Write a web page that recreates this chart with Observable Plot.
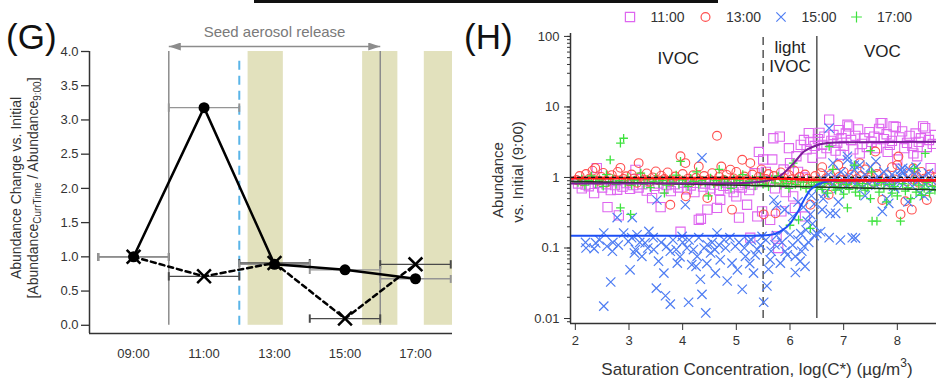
<!DOCTYPE html>
<html><head><meta charset="utf-8">
<script src="https://cdn.jsdelivr.net/npm/d3@7"></script>
<script src="https://cdn.jsdelivr.net/npm/@observablehq/plot@0.6"></script>
<style>
body{margin:0;background:#fff;font-family:"Liberation Sans",Arial,sans-serif;}
#wrap{position:relative;width:936px;height:381px;overflow:hidden;background:#fff;}
#g{position:absolute;left:0;top:0;}
#h{position:absolute;left:460px;top:0;}
#bar{position:absolute;left:254px;top:0;width:464px;height:3px;background:#111;}
</style></head>
<body><div id="wrap"><div id="bar"></div><div id="g"></div><div id="h"></div></div>
<script>
// ---------- Panel G data ----------
const hours = [9, 11, 13, 15, 17];
const hourLabels = ["09:00", "11:00", "13:00", "15:00", "17:00"];
const abundCircle = [1.0, 3.18, 0.89, 0.81, 0.68];
const abundCross = [1.0, 0.715, 0.91, 0.098, 0.89];
const errHalfWidth = [1, 1, 1, 1, 1];
const gYTicks = [0, 0.5, 1, 1.5, 2, 2.5, 3, 3.5, 4];
const releaseStart = 10, releaseEnd = 16;
const seedMarker = 12;
const bandStarts = [12.25, 15.5, 17.25];
const bandEnds = [13.25, 16.5, 18.05];
const gXDomain = [7.75, 18.05];
const gYDomain = [-0.12, 4];

// ---------- Panel H data ----------
const legendLabels = ["11:00", "13:00", "15:00", "17:00"];
const hXTicks = [2, 3, 4, 5, 6, 7, 8];
const hYTicks = [0.01, 0.1, 1, 10, 100];
const hYTickLabels = ["0.01", "0.1", "1", "10", "100"];
const hXDomain = [1.91, 8.73];
const hYDomain = [0.0085, 110];
const ivocBoundary = 5.5, vocBoundary = 6.5;
const unityRatio = 1;
const regionNames = ["IVOC", "light\nIVOC", "VOC"];
const regionX = [3.92, 6.0, 7.72];
const regionY = [49, 52, 62];

const pts1100 = [
[2.05,0.82],[2.12,0.7],[2.19,0.79],[2.25,0.75],[2.35,0.6],[2.4,1.36],[2.42,0.84],[2.5,0.72],[2.58,0.8],[2.6,0.38],[2.66,0.66],[2.74,0.78],[2.78,0.67],[2.81,0.29],[2.88,0.74],[2.95,0.83],[3.02,0.69],[3.08,0.78],[3.12,1.28],[3.18,0.72],[3.25,0.8],[3.33,0.65],[3.43,0.51],[3.48,0.76],[3.55,0.82],[3.59,0.38],[3.64,0.7],[3.7,0.78],[3.78,0.64],[3.85,0.8],[3.92,0.72],[3.96,0.17],[4.02,0.84],[4.08,0.68],[4.15,0.77],[4.22,0.62],[4.3,0.25],[4.34,0.26],[4.38,0.74],[4.42,0.82],[4.46,0.35],[4.52,0.7],[4.58,0.79],[4.64,0.37],[4.68,0.66],[4.7,0.48],[4.76,0.76],[4.82,0.84],[4.88,0.7],[4.95,0.62],[5.0,0.54],[5.04,0.78],[5.05,0.27],[5.1,0.72],[5.16,0.83],[5.2,0.41],[5.24,0.66],[5.26,0.14],[5.3,0.79],[5.34,1.15],[5.39,0.28],[5.42,2.3],[5.45,0.86],[5.48,0.33],[5.5,1.8],
[5.55,1.2],[5.6,0.9],[5.63,0.25],[5.67,1.8],[5.69,3.6],[5.72,0.7],[5.75,0.146],[5.78,0.1],[5.81,3.8],[5.84,0.33],[5.88,1.3],[5.92,0.62],[5.98,2.6],[6.0,1.6],[6.04,0.85],[6.06,0.54],[6.09,0.37],[6.12,2.0],[6.15,1.2],[6.2,2.9],[6.24,1.0],[6.26,3.4],[6.28,0.28],[6.31,2.5],[6.35,4.25],[6.38,3.2],[6.42,1.9],[6.46,2.8],
[6.52,3.5],[6.55,4.3],[6.58,2.2],[6.6,2.9],[6.64,3.8],[6.68,2.6],[6.73,6.6],[6.77,3.3],[6.81,4.0],[6.85,2.4],[6.88,3.1],[6.91,4.7],[6.94,2.1],[6.96,3.6],[7.0,2.8],[7.04,4.2],[7.07,5.6],[7.1,5.3],[7.14,3.4],[7.18,2.5],[7.22,3.9],[7.27,4.8],[7.3,2.2],[7.34,3.0],[7.38,3.6],[7.43,2.7],[7.48,4.4],[7.52,3.2],[7.57,3.8],[7.62,2.6],[7.66,4.9],[7.69,5.9],[7.72,5.9],[7.75,3.5],[7.8,4.1],[7.82,2.3],[7.86,2.9],[7.9,3.3],[7.93,5.3],[7.97,5.2],[8.0,1.8],[8.04,3.7],[8.09,4.5],[8.13,2.6],[8.18,3.1],[8.23,3.9],[8.28,2.8],[8.3,2.2],[8.34,4.2],[8.37,2.0],[8.4,3.2],[8.44,3.6],[8.48,5.3],[8.52,5.0],[8.55,2.7],[8.59,3.4],[8.62,1.36],[8.66,3.0],[8.7,4.0]
];
const pts1300 = [
[2.02,0.92],[2.08,1.05],[2.14,0.88],[2.2,1.12],[2.26,0.96],[2.32,1.25],[2.37,1.36],[2.42,0.9],[2.48,1.02],[2.52,1.16],[2.58,0.85],[2.63,0.98],[2.68,1.08],[2.74,0.92],[2.79,1.2],[2.84,1.37],[2.9,0.95],[2.95,1.04],[3.0,0.88],[3.05,1.1],[3.1,0.97],[3.15,0.84],[3.18,1.6],[3.22,1.02],[3.28,0.93],[3.33,1.14],[3.38,0.87],[3.44,1.0],[3.5,1.22],[3.55,0.91],[3.6,1.06],[3.66,0.95],[3.72,1.18],[3.77,0.41],[3.8,0.89],[3.86,1.03],[3.92,0.93],[3.96,2.0],[4.0,1.12],[4.05,1.6],[4.06,0.54],[4.1,0.96],[4.15,0.86],[4.2,1.08],[4.25,0.99],[4.3,1.43],[4.34,0.9],[4.4,1.05],[4.46,0.51],[4.5,0.94],[4.55,1.15],[4.6,0.88],[4.64,3.9],[4.68,1.02],[4.72,1.43],[4.77,0.92],[4.82,1.09],[4.89,1.29],[4.92,0.35],[4.95,0.97],[5.0,1.2],[5.05,0.9],[5.11,1.78],[5.15,1.03],[5.2,0.93],[5.26,1.6],[5.3,1.1],[5.36,0.88],[5.42,1.02],[5.47,1.3],[5.51,0.3],[5.55,0.95],[5.6,1.12],[5.65,0.86],[5.7,1.05],[5.73,0.31],[5.78,0.93],[5.83,1.18],[5.88,0.98],[5.93,0.87],[5.98,1.08],[6.03,0.94],[6.08,1.25],[6.13,0.9],[6.18,1.02],[6.23,0.85],[6.28,1.1],[6.33,0.96],[6.38,0.41],[6.42,0.88],[6.47,1.05],[6.52,0.9],[6.57,1.15],[6.6,1.4],[6.62,0.85],[6.67,0.97],[6.72,0.57],[6.75,1.08],[6.8,0.9],[6.85,0.82],[6.9,1.5],[6.92,1.02],[6.95,0.92],[7.0,1.2],[7.05,0.86],[7.1,0.98],[7.15,1.1],[7.2,0.84],[7.25,0.95],[7.3,1.6],[7.32,1.05],[7.35,0.88],[7.4,1.3],[7.45,0.93],[7.5,1.0],[7.55,0.85],[7.59,2.33],[7.6,1.4],[7.62,1.12],[7.67,0.9],[7.72,0.48],[7.75,0.97],[7.8,1.08],[7.85,0.86],[7.9,1.4],[7.95,0.94],[8.0,1.5],[8.02,1.98],[8.06,0.3],[8.1,1.02],[8.15,0.46],[8.18,0.88],[8.22,1.15],[8.27,0.35],[8.3,1.35],[8.32,0.92],[8.35,1.05],[8.4,0.84],[8.45,1.2],[8.5,0.96],[8.55,0.48],[8.6,1.1],[8.65,0.88],[8.7,1.0]
];
const pts1500 = [
[2.19,0.12],[2.2,0.1],[2.35,0.098],[2.38,0.118],[2.45,0.13],[2.53,0.163],[2.53,0.015],[2.59,0.106],[2.66,0.033],[2.69,0.09],[2.7,0.12],[2.78,0.27],[2.8,0.11],[2.9,0.163],[2.99,0.124],[3.02,0.049],[3.05,0.14],[3.06,0.27],[3.1,0.085],[3.12,0.095],[3.15,0.154],[3.2,0.12],[3.24,0.076],[3.3,0.118],[3.35,0.1],[3.37,0.172],[3.45,0.14],[3.46,0.095],[3.51,0.027],[3.52,0.48],[3.55,0.065],[3.6,0.12],[3.65,0.044],[3.68,0.021],[3.7,0.105],[3.77,0.016],[3.77,0.09],[3.82,0.13],[3.88,0.095],[3.9,0.061],[3.95,0.075],[3.99,0.146],[4.0,0.12],[4.05,0.41],[4.08,0.1],[4.11,0.017],[4.12,0.13],[4.17,0.058],[4.2,0.095],[4.25,0.055],[4.27,0.076],[4.3,0.14],[4.33,0.036],[4.36,0.022],[4.36,1.9],[4.4,0.1],[4.43,0.012],[4.45,0.06],[4.46,0.111],[4.52,0.085],[4.55,0.12],[4.6,0.095],[4.61,0.044],[4.64,0.163],[4.68,0.11],[4.7,0.068],[4.77,0.131],[4.8,0.1],[4.83,0.034],[4.88,0.14],[4.92,0.061],[4.98,0.106],[5.02,0.049],[5.05,0.12],[5.11,0.026],[5.15,0.1],[5.17,0.076],[5.23,0.124],[5.25,0.06],[5.28,0.13],[5.32,0.044],[5.35,0.08],[5.39,0.095],[5.45,0.11],[5.48,0.146],[5.51,0.017],[5.55,0.13],[5.57,0.029],[5.6,0.05],[5.63,0.068],[5.65,0.09],[5.7,0.48],[5.72,0.111],[5.75,0.15],[5.75,0.4],[5.82,0.061],[5.85,0.12],[5.88,0.18],[5.9,0.35],[5.91,0.09],[5.95,0.08],[6.0,0.154],[6.05,0.11],[6.05,0.28],[6.1,0.076],[6.1,0.045],[6.15,0.13],[6.15,0.45],[6.19,0.065],[6.2,0.16],[6.22,0.09],[6.25,0.38],[6.26,0.106],[6.28,0.055],[6.3,0.18],[6.32,0.24],[6.35,0.12],[6.38,0.3],[6.4,0.55],[6.42,0.22],[6.45,0.15],[6.45,0.42],[6.5,0.16],[6.55,0.75],[6.57,0.17],[6.6,0.35],[6.6,0.95],[6.62,0.5],[6.65,0.6],[6.68,0.85],[6.72,1.1],[6.73,0.14],[6.73,5.0],[6.75,0.31],[6.8,0.8],[6.8,1.6],[6.85,1.0],[6.85,0.31],[6.9,0.7],[6.9,0.45],[6.94,0.13],[6.95,1.2],[7.0,0.9],[7.05,0.78],[7.07,2.0],[7.07,1.78],[7.1,1.05],[7.15,0.88],[7.16,0.14],[7.2,1.3],[7.2,1.5],[7.22,0.138],[7.25,0.82],[7.3,0.95],[7.3,1.5],[7.35,0.72],[7.4,1.1],[7.4,0.55],[7.45,0.85],[7.5,1.4],[7.55,0.92],[7.6,0.78],[7.6,1.7],[7.65,1.02],[7.7,0.88],[7.72,0.33],[7.75,1.2],[7.8,0.8],[7.8,0.5],[7.84,0.43],[7.85,0.95],[7.9,1.1],[7.93,0.75],[7.95,0.7],[8.0,0.9],[8.05,1.05],[8.06,1.29],[8.09,1.2],[8.1,1.35],[8.12,0.82],[8.18,0.98],[8.2,0.45],[8.22,1.3],[8.28,0.75],[8.33,1.12],[8.35,1.4],[8.38,0.88],[8.42,0.6],[8.47,1.0],[8.5,0.55],[8.52,0.8],[8.58,1.15],[8.63,0.92],[8.68,0.7]
];
const pts1700 = [
[2.05,0.85],[2.12,0.95],[2.18,0.78],[2.25,0.9],[2.3,1.05],[2.38,0.82],[2.45,0.92],[2.52,0.75],[2.58,1.1],[2.62,0.86],[2.65,1.78],[2.7,0.96],[2.76,0.8],[2.82,0.9],[2.84,0.37],[2.84,3.07],[2.9,3.6],[2.93,0.84],[2.98,1.0],[3.03,0.3],[3.05,0.78],[3.1,0.92],[3.16,0.85],[3.22,1.15],[3.28,0.8],[3.34,0.94],[3.4,0.72],[3.45,0.88],[3.5,1.0],[3.56,0.82],[3.62,0.9],[3.66,0.6],[3.7,0.78],[3.76,0.95],[3.82,0.86],[3.88,1.08],[3.93,0.8],[3.96,1.69],[4.0,0.92],[4.05,0.84],[4.1,0.75],[4.15,0.97],[4.2,0.88],[4.26,1.2],[4.3,0.8],[4.36,0.91],[4.42,0.84],[4.48,0.55],[4.52,0.98],[4.58,0.82],[4.63,0.9],[4.68,1.3],[4.72,0.78],[4.78,0.93],[4.84,0.86],[4.9,0.7],[4.95,0.95],[5.0,0.82],[5.06,0.9],[5.12,1.1],[5.18,0.79],[5.24,0.88],[5.3,0.94],[5.35,0.76],[5.4,0.86],[5.45,1.02],[5.5,0.8],[5.55,0.9],[5.6,0.74],[5.66,0.95],[5.72,0.84],[5.78,1.05],[5.83,0.78],[5.88,0.9],[5.93,0.82],[5.98,0.7],[6.0,0.21],[6.03,0.88],[6.06,1.6],[6.1,0.8],[6.15,0.95],[6.16,0.25],[6.2,0.75],[6.25,0.86],[6.3,0.7],[6.35,0.92],[6.38,0.19],[6.4,0.78],[6.45,0.85],[6.5,0.72],[6.55,0.88],[6.6,0.68],[6.65,0.82],[6.7,0.6],[6.73,2.75],[6.75,0.9],[6.8,1.3],[6.82,0.74],[6.85,0.66],[6.9,0.85],[6.95,0.7],[7.0,0.58],[7.05,0.8],[7.07,0.37],[7.1,0.68],[7.15,0.9],[7.2,1.5],[7.22,0.62],[7.25,0.76],[7.3,0.55],[7.35,0.82],[7.4,0.66],[7.45,0.72],[7.5,2.4],[7.5,0.5],[7.52,1.2],[7.53,0.24],[7.58,0.78],[7.62,0.24],[7.66,0.62],[7.7,0.85],[7.75,0.7],[7.8,0.45],[7.85,0.8],[7.9,0.6],[7.95,0.74],[8.0,0.55],[8.06,0.24],[8.1,0.82],[8.15,0.64],[8.2,0.72],[8.25,0.5],[8.3,0.9],[8.32,1.35],[8.35,0.62],[8.4,0.78],[8.45,0.56],[8.5,0.7],[8.52,2.2],[8.55,0.85],[8.6,0.6],[8.65,0.75],[8.7,0.66]
];

// fitted curves
const fit1100x = [1.91, 5.0, 5.5, 5.8, 6.07, 6.26, 6.44, 6.69, 7.0, 8.73];
const fit1100y = [0.82, 0.83, 0.88, 1.03, 1.6, 2.33, 2.75, 3.07, 3.17, 3.2];
const fit1300x = [1.91, 5.5, 6.0, 6.5, 7.0, 8.73];
const fit1300y = [0.98, 0.98, 0.96, 0.92, 0.91, 0.91];
const fit1500x = [1.91, 5.3, 5.64, 5.82, 6.01, 6.13, 6.26, 6.38, 6.51, 6.69, 7.0, 8.73];
const fit1500y = [0.149, 0.149, 0.154, 0.172, 0.226, 0.31, 0.48, 0.67, 0.79, 0.88, 0.9, 0.9];
const fit1700x = [1.91, 8.73];
const fit1700y = [0.88, 0.67];

// ---------- styles ----------
const FONT = "'Liberation Sans', Arial, Helvetica, sans-serif";
const c11 = "#de66f0", c13 = "#ff4f4f", c15 = "#4f7df3", c17 = "#3ee23e";
const axisColor = "#333";

// ---------- Panel G ----------
const rowsA = hours.map((t, i) => ({t, v: abundCircle[i], e: errHalfWidth[i]}));
const rowsB = hours.map((t, i) => ({t, v: abundCross[i], e: errHalfWidth[i]}));
const bands = bandStarts.map((s, i) => ({x1: s, x2: bandEnds[i]}));
const gTop = gYTicks[gYTicks.length - 1];

const headMarker = (color) => {
  const m = d3.create("svg:marker")
    .attr("viewBox", "0 -4 12 8").attr("markerWidth", 12).attr("markerHeight", 8)
    .attr("markerUnits", "userSpaceOnUse").attr("refX", 12).attr("refY", 0)
    .attr("orient", "auto-start-reverse").attr("fill", color).attr("stroke", "none");
  m.append("path").attr("d", "M0,-4L12,0L0,4Z");
  return m.node();
};

const gPlot = Plot.plot({
  width: 460, height: 381,
  marginLeft: 89, marginRight: 8, marginTop: 51, marginBottom: 48,
  style: {fontFamily: FONT, fontSize: "13px", color: axisColor, background: "transparent", overflow: "visible"},
  x: {domain: gXDomain, label: null},
  y: {domain: gYDomain, label: null},
  marks: [
    Plot.rect(bands, {x1: "x1", x2: "x2", y1: 0, y2: gTop, fill: "#e2e1bd"}),
    Plot.ruleX([releaseStart, releaseEnd], {y1: 0, y2: gTop, stroke: "#8c8c8c", strokeWidth: 1.5}),
    Plot.ruleX([seedMarker], {y1: 0, y2: 3.87, stroke: "#5ab5e8", strokeWidth: 2, strokeDasharray: "9,6"}),
    Plot.link([{a: releaseStart, b: releaseEnd}], {x1: "a", x2: "b", y1: gTop, y2: gTop, dy: -5, stroke: "#8c8c8c", strokeWidth: 1.5, markerStart: headMarker, markerEnd: headMarker}),
    Plot.text(["Seed aerosol release"], {x: (releaseStart + releaseEnd) / 2, y: gTop, dy: -19, text: d => d, fontSize: 15, fill: "#7a7a7a"}),
    Plot.link(rowsB, {x1: d => d.t - d.e, x2: d => d.t + d.e, y1: "v", y2: "v", stroke: "#4a4a4a", strokeWidth: 1.4, markerStart: "tick", markerEnd: "tick"}),
    Plot.link(rowsA, {x1: d => d.t - d.e, x2: d => d.t + d.e, y1: "v", y2: "v", stroke: "#959595", strokeWidth: 1.4, markerStart: "tick", markerEnd: "tick"}),
    Plot.line(rowsB, {x: "t", y: "v", stroke: "black", strokeWidth: 2.5, strokeDasharray: "5,4"}),
    Plot.line(rowsA, {x: "t", y: "v", stroke: "black", strokeWidth: 2.5}),
    Plot.dot(rowsA, {x: "t", y: "v", r: 5.5, fill: "black"}),
    Plot.dot(rowsB, {x: "t", y: "v", symbol: "times", r: 6.3, stroke: "black", strokeWidth: 2.5}),
    Plot.ruleX([gXDomain[0]], {stroke: axisColor, strokeWidth: 1.5}),
    Plot.ruleY([gYDomain[0]], {stroke: axisColor, strokeWidth: 1.5}),
    Plot.axisY(gYTicks, {tickFormat: d => d.toFixed(1), tickSize: 8, tickPadding: 3, fontSize: 13, label: null, strokeWidth: 1.3}),
    Plot.axisX(hours, {tickFormat: d => hourLabels[hours.indexOf(d)], tickSize: 0, tickPadding: 15, fontSize: 13, label: null})
  ]
});
document.getElementById("g").appendChild(gPlot);
{
  const s = d3.select(gPlot);
  s.append("text").attr("x", 6).attr("y", 49).attr("text-anchor", "start").attr("font-size", 35).attr("fill", "#111").text("(G)");
  s.append("text").attr("transform", "translate(21,188) rotate(-90)").attr("text-anchor", "middle")
    .attr("font-size", 14).attr("fill", "#333").text("Abundance Change vs. Initial");
  const t2 = s.append("text").attr("transform", "translate(38,188) rotate(-90)").attr("text-anchor", "middle")
    .attr("font-size", 14).attr("fill", "#333");
  t2.append("tspan").text("[Abundance");
  t2.append("tspan").attr("font-size", 10).attr("dy", 3).text("CurrTime");
  t2.append("tspan").attr("dy", -3).text(" / Abundance");
  t2.append("tspan").attr("font-size", 10).attr("dy", 3).text("9:00");
  t2.append("tspan").attr("dy", -3).text("]");
}

// ---------- Panel H ----------
const toRows = (xs, ys) => xs.map((x, i) => ({x, y: ys[i]}));
const hPlot = Plot.plot({
  width: 476, height: 381,
  marginLeft: 110, marginRight: 0, marginTop: 33, marginBottom: 58,
  style: {fontFamily: FONT, fontSize: "13px", color: axisColor, background: "transparent"},
  x: {domain: hXDomain, label: null},
  y: {type: "log", domain: hYDomain, label: null},
  marks: [
    Plot.ruleX([ivocBoundary], {y1: 0.01, y2: 100, stroke: "#555", strokeWidth: 1.5, strokeDasharray: "8,5"}),
    Plot.ruleX([vocBoundary], {y1: 0.01, y2: 100, stroke: "#555", strokeWidth: 1.5}),
    Plot.dot(pts1100, {x: d => d[0], y: d => d[1], symbol: "square", r: 5.2, stroke: c11, strokeWidth: 1.1, clip: true}),
    Plot.dot(pts1300, {x: d => d[0], y: d => d[1], symbol: "circle", r: 4.4, stroke: c13, strokeWidth: 1.1, clip: true}),
    Plot.dot(pts1500, {x: d => d[0], y: d => d[1], symbol: "times", r: 4.3, stroke: c15, strokeWidth: 1.2, clip: true}),
    Plot.dot(pts1700, {x: d => d[0], y: d => d[1], symbol: "plus", r: 2.9, stroke: c17, strokeWidth: 1.3, clip: true}),
    Plot.line(toRows(fit1700x, fit1700y), {x: "x", y: "y", stroke: "#1f3a1f", strokeWidth: 1.6, clip: true}),
    Plot.line(toRows(fit1100x, fit1100y), {x: "x", y: "y", stroke: "#7d1c98", strokeWidth: 2, curve: "monotone-x", clip: true}),
    Plot.line(toRows(fit1500x, fit1500y), {x: "x", y: "y", stroke: "#1d4ff5", strokeWidth: 2, curve: "monotone-x", clip: true}),
    Plot.line(toRows(fit1300x, fit1300y), {x: "x", y: "y", stroke: "#ff1414", strokeWidth: 2.6, curve: "monotone-x", clip: true}),
    Plot.ruleY([unityRatio], {stroke: "#111", strokeWidth: 1.2, strokeDasharray: "4,3"}),
    Plot.text(regionNames, {x: (d, i) => regionX[i], y: (d, i) => regionY[i], text: d => d, fontSize: 17, fill: "#222", lineHeight: 1.12, lineAnchor: "middle"}),
    Plot.ruleX([hXDomain[0]], {stroke: axisColor, strokeWidth: 1.5}),
    Plot.ruleY([hYDomain[0]], {stroke: axisColor, strokeWidth: 1.5}),
    Plot.axisY({ticks: 40, tickSize: 3, tickFormat: () => "", label: null}),
    Plot.axisY(hYTicks, {tickFormat: d => hYTickLabels[hYTicks.indexOf(d)], tickSize: 6, tickPadding: 5, fontSize: 13, label: null}),
    Plot.axisX(hXTicks, {tickSize: 7, tickPadding: 5, fontSize: 13, label: null})
  ]
});
document.getElementById("h").appendChild(hPlot);
{
  const s = d3.select(hPlot);
  s.append("text").attr("x", 4).attr("y", 49).attr("text-anchor", "start").attr("font-size", 35).attr("fill", "#111").text("(H)");
  s.append("text").attr("transform", "translate(43,180) rotate(-90)").attr("text-anchor", "middle")
    .attr("font-size", 15).attr("fill", "#333").text("Abundance");
  s.append("text").attr("transform", "translate(63,172) rotate(-90)").attr("text-anchor", "middle")
    .attr("font-size", 15).attr("fill", "#333").text("vs. Initial (9:00)");
  const xl = s.append("text").attr("x", 297).attr("y", 375).attr("text-anchor", "middle")
    .attr("font-size", 17).attr("fill", "#333");
  xl.append("tspan").text("Saturation Concentration, log(C*) (\u00b5g/m");
  xl.append("tspan").attr("font-size", 12).attr("dy", -8).text("3");
  xl.append("tspan").attr("dy", 8).text(")");
  // legend
  const syms = [d3.symbolSquare, d3.symbolCircle, d3.symbolTimes, d3.symbolPlus];
  const cols = [c11, c13, c15, c17];
  const sizes = [85, 62, 58, 40];
  const lg = s.append("g");
  legendLabels.forEach((lab, i) => {
    const x0 = 170 + i * 75.5;
    lg.append("path").attr("transform", `translate(${x0},17)`).attr("d", d3.symbol(syms[i], sizes[i])())
      .attr("fill", "none").attr("stroke", cols[i]).attr("stroke-width", 1.2);
    lg.append("text").attr("x", x0 + 20.5).attr("y", 22).attr("text-anchor", "start").attr("font-size", 14).attr("fill", "#333").text(lab);
  });
}
</script>
</body></html>
